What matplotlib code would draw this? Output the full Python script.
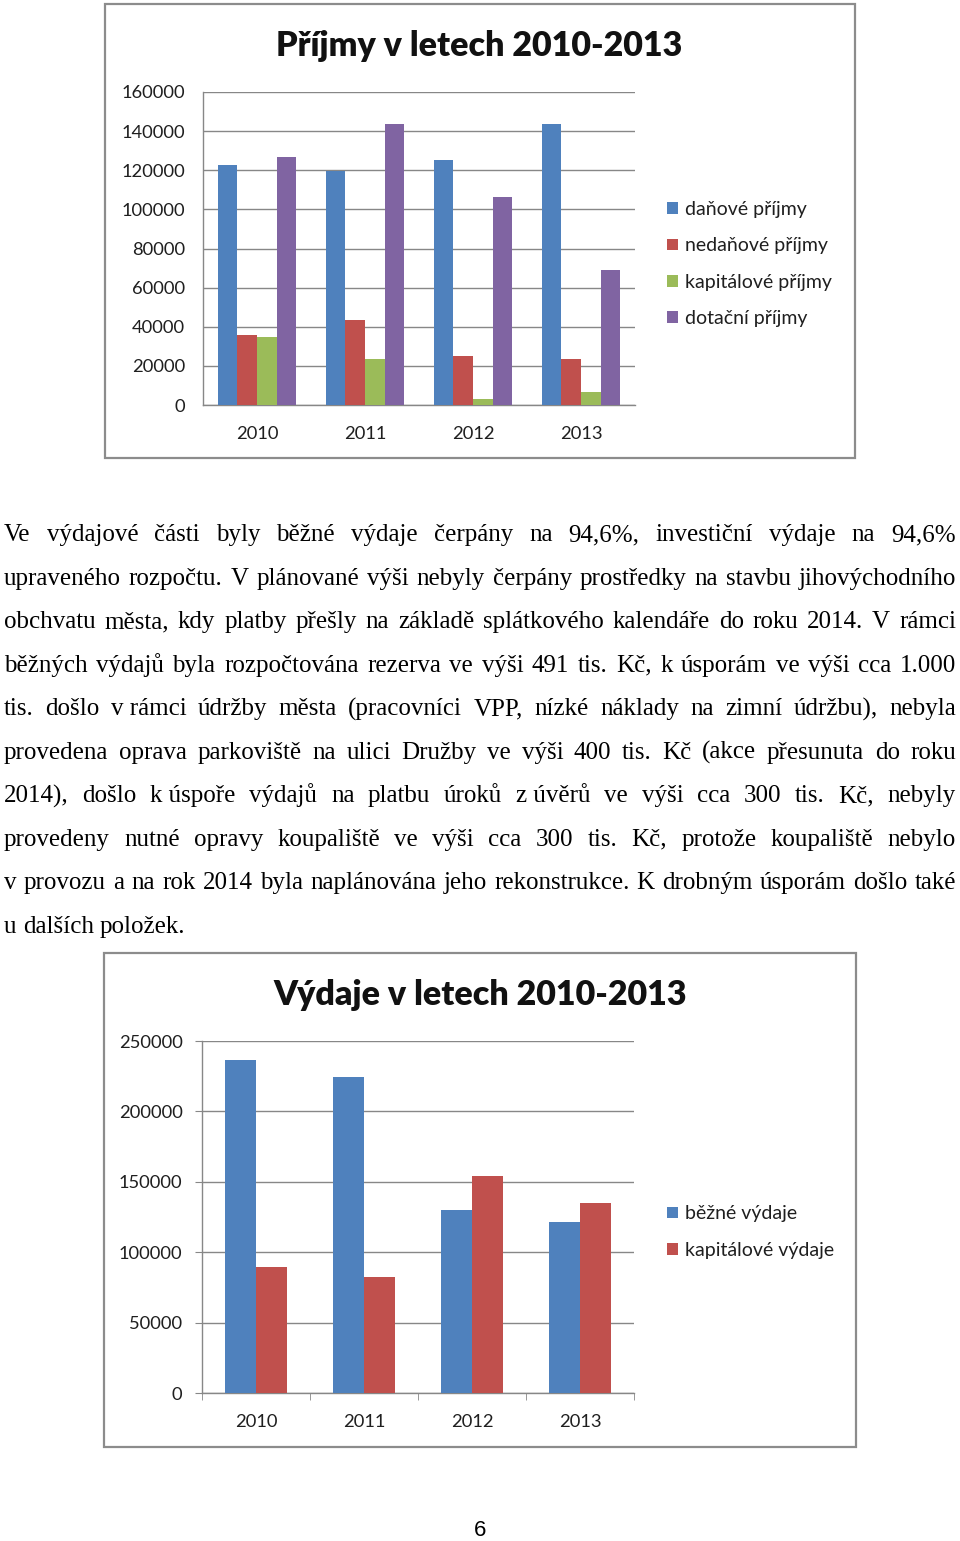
import matplotlib
matplotlib.use("Agg")
import matplotlib.pyplot as plt
from matplotlib.patches import Rectangle
import numpy as np

# ---------------- data ----------------
years = ["2010", "2011", "2012", "2013"]

income_title = "Příjmy v letech 2010-2013"
income_labels = ["daňové příjmy", "nedaňové příjmy", "kapitálové příjmy", "dotační příjmy"]
danove = [122700, 119600, 125300, 143700]
nedanove = [35800, 43500, 25000, 23500]
kapitalove_p = [34800, 23500, 3000, 6600]
dotacni = [126800, 143700, 106300, 69000]
income_ticks = [0, 20000, 40000, 60000, 80000, 100000, 120000, 140000, 160000]

expense_title = "Výdaje v letech 2010-2013"
expense_labels = ["běžné výdaje", "kapitálové výdaje"]
bezne = [236500, 224400, 130000, 121400]
kapitalove_v = [89500, 82400, 154000, 135000]
expense_ticks = [0, 50000, 100000, 150000, 200000, 250000]

paragraph_lines = [
    "Ve výdajové části byly běžné výdaje čerpány na 94,6%, investiční výdaje na 94,6%",
    "upraveného rozpočtu. V plánované výši nebyly čerpány prostředky na stavbu jihovýchodního",
    "obchvatu města, kdy platby přešly na základě splátkového kalendáře do roku 2014. V rámci",
    "běžných výdajů byla rozpočtována rezerva ve výši 491 tis. Kč, k úsporám ve výši cca 1.000",
    "tis. došlo v\u00a0rámci údržby města (pracovníci VPP, nízké náklady na zimní údržbu), nebyla",
    "provedena oprava parkoviště na ulici Družby ve výši 400 tis. Kč (akce přesunuta do roku",
    "2014), došlo k\u00a0úspoře výdajů na platbu úroků z\u00a0úvěrů ve výši cca 300 tis. Kč, nebyly",
    "provedeny nutné opravy koupaliště ve výši cca 300 tis. Kč, protože koupaliště nebylo",
    "v provozu a na rok 2014 byla naplánována jeho rekonstrukce. K drobným úsporám došlo také",
    "u dalších položek.",
]
page_number = "6"

COLORS = ["#4F81BD", "#C0504D", "#9BBB59", "#8064A2"]
GRID = "#878787"
FRAME = "#8C8C8C"
CHART_FONT = ["Lato", "DejaVu Sans"]
TEXT_FONT = ["Liberation Serif", "DejaVu Serif"]

W, H = 960, 1541
fig = plt.figure(figsize=(W / 100, H / 100), dpi=100)
fig.patch.set_facecolor("white")


def fx(px):
    return px / W


def fy(py):
    return 1 - py / H


def frame(x0, y0, x1, y1):
    fig.patches.append(Rectangle((fx(x0), fy(y1)), fx(x1) - fx(x0), fy(y0) - fy(y1),
                                 transform=fig.transFigure, fill=False,
                                 edgecolor=FRAME, linewidth=1.6))


def bar_chart(rect_px, series, labels, ticks, title, title_xy, legend_xy, outer_ticks):
    x0, y0, x1, y1 = rect_px
    ax = fig.add_axes([fx(x0), fy(y1), fx(x1) - fx(x0), fy(y0) - fy(y1)])
    n = len(series)
    w = 1.0 / (n + 1.5)
    x = np.arange(len(years))
    handles = []
    for i, vals in enumerate(series):
        off = (i - (n - 1) / 2) * w
        h = ax.bar(x + off, vals, width=w, color=COLORS[i], label=labels[i], zorder=3,
                   linewidth=0)
        handles.append(h)
    ax.set_xlim(-0.5, len(years) - 0.5)
    ax.set_ylim(ticks[0], ticks[-1])
    ax.set_yticks(ticks)
    ax.set_yticklabels([str(t) for t in ticks], fontfamily=CHART_FONT, fontsize=13.2,
                       color="#1f1f1f")
    ax.set_xticks(x)
    ax.set_xticklabels(years, fontfamily=CHART_FONT, fontsize=13.2, color="#1f1f1f")
    ax.yaxis.grid(True, color=GRID, linewidth=1.0, zorder=0)
    ax.set_axisbelow(True)
    for s in ["top", "right"]:
        ax.spines[s].set_visible(False)
    for s in ["left", "bottom"]:
        ax.spines[s].set_color(GRID)
        ax.spines[s].set_linewidth(1.0)
    if outer_ticks:
        ax.tick_params(axis="y", length=5, color=GRID, pad=9)
        ax.set_xticks(np.arange(-0.5, len(years)), minor=True)
        ax.tick_params(axis="x", which="minor", length=5, color=GRID)
        ax.tick_params(axis="x", which="major", length=0, pad=15)
    else:
        ax.tick_params(axis="y", length=0, pad=13)
        ax.tick_params(axis="x", length=0, pad=15)
    fig.text(fx(title_xy[0]), fy(title_xy[1]), title, ha="center", va="center",
             fontfamily=CHART_FONT, fontweight="heavy", fontsize=24.5, color="#111111")
    leg = ax.legend(handles=handles, labels=labels, loc="center left",
                    bbox_to_anchor=(fx(legend_xy[0]), fy(legend_xy[1])),
                    bbox_transform=fig.transFigure, frameon=False,
                    prop={"family": CHART_FONT, "size": 14},
                    handlelength=0.55, handleheight=0.55, handletextpad=0.4,
                    labelspacing=1.0, borderpad=0, borderaxespad=0)
    for t in leg.get_texts():
        t.set_color("#1f1f1f")
    return ax


# ---- chart 1 ----
frame(105, 4, 855, 458)
bar_chart((203, 92, 635, 405), [danove, nedanove, kapitalove_p, dotacni], income_labels,
          income_ticks, income_title, (479, 46), (667, 264), outer_ticks=False)

# ---- chart 2 ----
frame(104, 953, 856, 1447)
bar_chart((202, 1041, 634, 1393), [bezne, kapitalove_v], expense_labels,
          expense_ticks, expense_title, (480, 995), (667, 1232), outer_ticks=True)

# ---- justified paragraph ----
renderer = fig.canvas.get_renderer()
left_px, right_px = 4, 956
base0, step = 541, 43.55
fsize = 18
for li, line in enumerate(paragraph_lines):
    words = line.split(" ")
    yb = fy(base0 + li * step)
    texts = []
    widths = []
    for wd in words:
        t = fig.text(0, yb, wd, fontfamily=TEXT_FONT, fontsize=fsize, va="baseline",
                     ha="left", color="black")
        bb = t.get_window_extent(renderer)
        texts.append(t)
        widths.append(bb.width)
    last = li == len(paragraph_lines) - 1
    if last or len(words) == 1:
        sp = fsize * 100 / 72 * 0.25
    else:
        sp = (right_px - left_px - sum(widths)) / (len(words) - 1)
    xcur = left_px
    for t, wdt in zip(texts, widths):
        t.set_x(fx(xcur))
        xcur += wdt + sp

fig.text(fx(480), fy(1530), page_number, ha="center", va="center",
         fontfamily=["Liberation Sans", "DejaVu Sans"], fontsize=16, color="black")

fig.savefig("out.png", dpi=100, facecolor="white")
